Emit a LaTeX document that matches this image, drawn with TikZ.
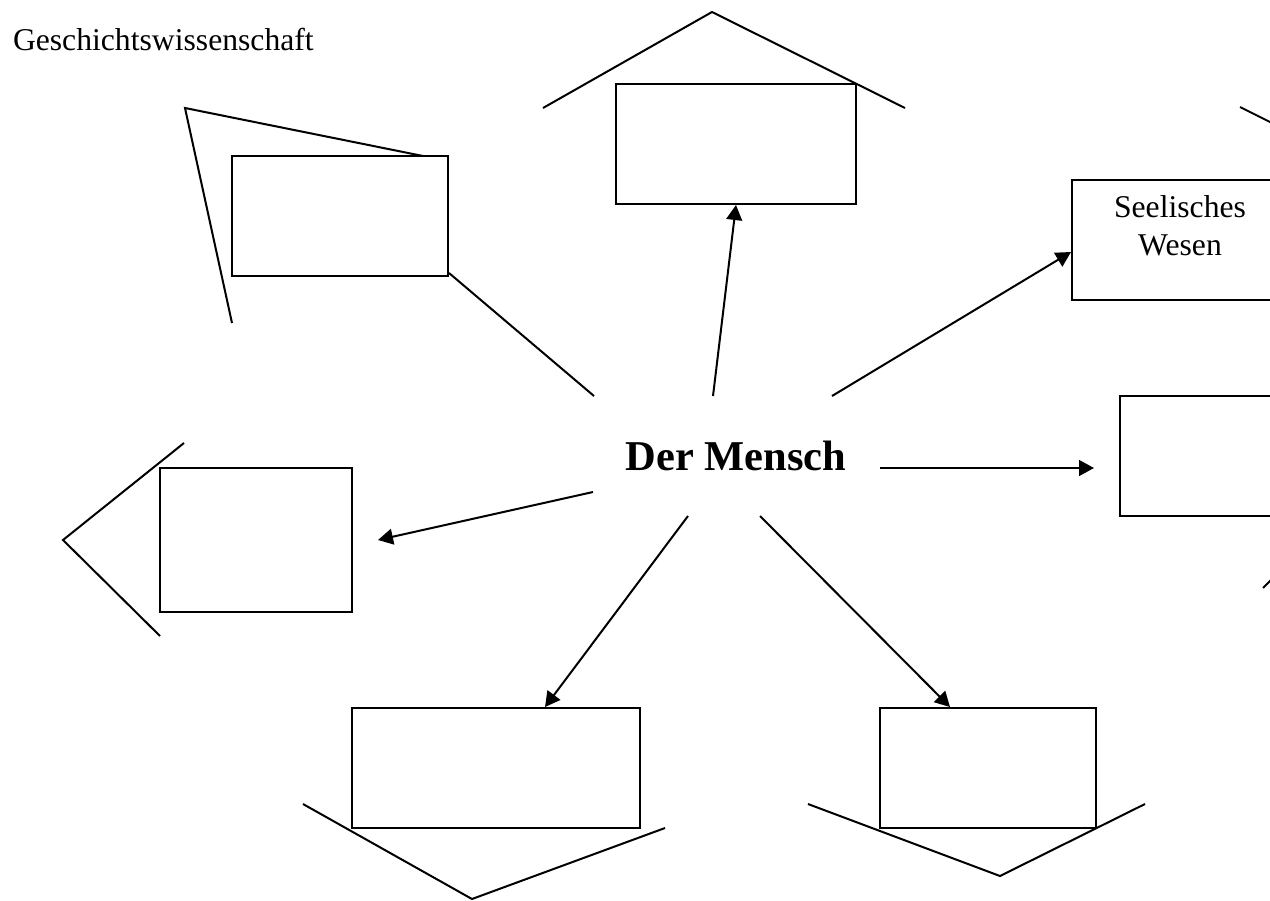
\documentclass[tikz,border=0pt]{standalone}
\usepackage{fontspec}
\setmainfont{Liberation Serif}
\usetikzlibrary{arrows.meta,positioning,calc}

\begin{document}
\begin{tikzpicture}[x=0.6pt,y=-0.6pt,>={Triangle[length=9pt,width=9.5pt]},line width=1.2pt]
    \tikzset{
      leer/.style={draw,inner sep=0pt,minimum height=72pt},
      titel/.style={font=\fontsize{19}{23}\selectfont,inner sep=0pt}
    }
    \useasboundingbox (0,0) rectangle (1270,900);
    \clip (0,0) rectangle (1270,900);
    % heading
    \node[titel,anchor=base west] (fach) at (12,50) {Geschichtswissenschaft};
    % centre
    \node[font=\bfseries\fontsize{25.5}{30}\selectfont,anchor=base,inner sep=0pt] (mensch) at (736,470) {Der Mensch};
    % empty boxes
    \node[leer,minimum width=144pt] (oben) at (736,144) {};
    \node[leer,minimum width=129.6pt] (obenlinks) at (340,216) {};
    \node[leer,minimum width=115.2pt,minimum height=86.4pt] (links) at (256,540) {};
    \node[leer,minimum width=172.8pt] (untenlinks) at (496,768) {};
    \node[leer,minimum width=129.6pt] (untenrechts) at (988,768) {};
    \node[leer,minimum width=129.6pt] (seele) at (1180,240) {};
    \node[leer,minimum width=115.2pt] (rechts) at (1216,456) {};
    \node[titel,align=center] (seeletext) at ($(seele)+(0,-14)$) {Seelisches\\Wesen};
    % start points round the centre
    \coordinate (s0) at (594,396);
    \coordinate (s1) at (713,396);
    \coordinate (s2) at (832,396);
    \coordinate (s3) at (880,468);
    \coordinate (s4) at (593,492);
    \coordinate (s5) at (688,516);
    \coordinate (s6) at (760,516);
    % end points at the boxes
    \coordinate (e2) at ($(seele.west)+(0,12)$);
    \coordinate (e3) at ($(rechts.west)+(-25,12)$);
    \coordinate (e4) at ($(links.east)+(25,0)$);
    \coordinate (e5) at ($(untenlinks.north)+(49,0)$);
    \coordinate (e6) at ($(untenrechts.north)+(-38,0)$);
    % connectors
    \draw (s0) -- ($(obenlinks.south east)+(0,-4)$);
    \draw[->] (s1) -- (oben.south);
    \foreach \s/\e in {s2/e2, s3/e3, s4/e4, s5/e5, s6/e6}{
      \draw[->] (\s) -- (\e);
    }
    % roofs and frames
    \draw (543,108) -- (712,12) -- (905,108);
    \draw (423,156) -- (185,108) -- (232,323);
    \draw (184,443) -- (63,540) -- (160,636);
    \draw (303,804) -- (472,899) -- (665,828);
    \draw (808,804) -- (1000,876) -- (1145,804);
    \draw (1240,107) -- (1300,137);
    \draw (1263,588) -- (1290,561);
  \end{tikzpicture}
\end{document}
